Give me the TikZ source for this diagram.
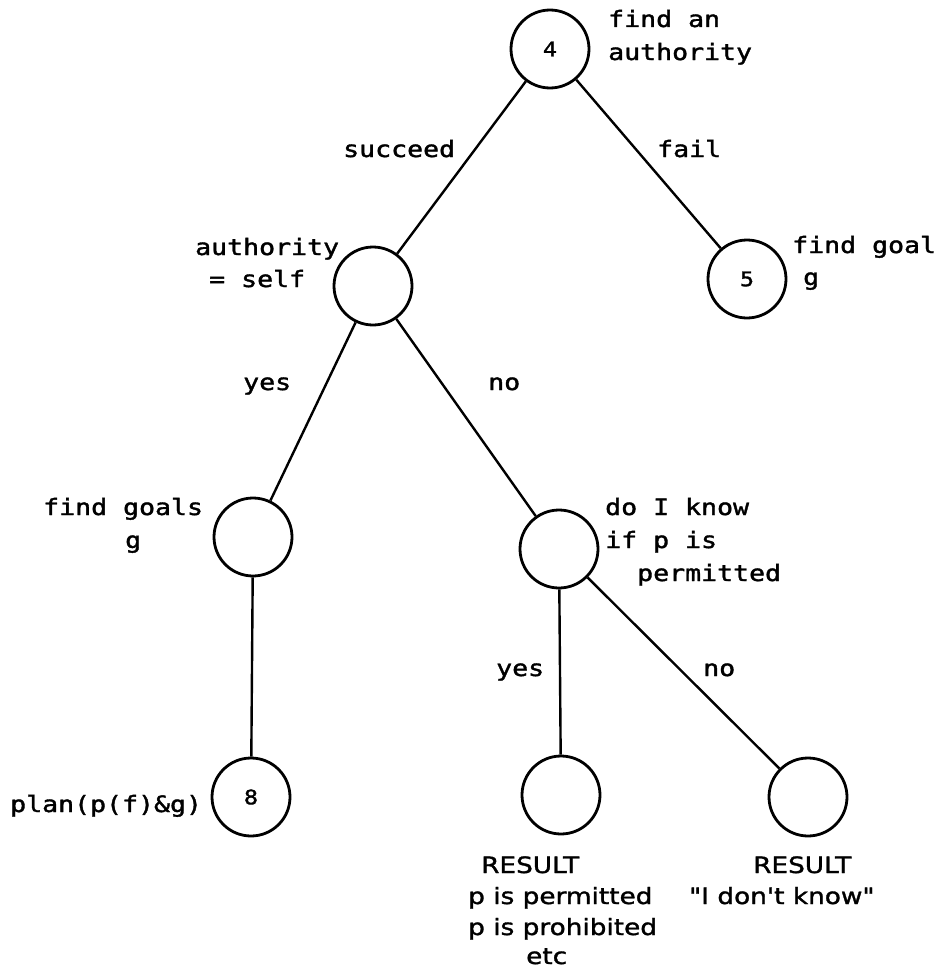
\documentclass[tikz,border=0pt]{standalone}
\usepackage{fontspec}
\newfontfamily\labfont[FakeStretch=1.18,FakeBold=1.6]{DejaVu Sans Mono}
\newfontfamily\resfont[FakeStretch=1.17,FakeBold=1.4]{DejaVu Sans}
\begin{document}
\begin{tikzpicture}[x=1pt,y=-1pt,
  state/.style={circle,draw,line width=2.8pt,minimum size=78pt,inner sep=0pt,
    font=\labfont\fontsize{20}{24}\selectfont},
  edge/.style={line width=2.4pt},
  lab/.style={anchor=base west,inner sep=0pt,font=\labfont\fontsize{22.5}{27}\selectfont},
  res/.style={anchor=base west,inner sep=0pt,font=\resfont\fontsize{22.5}{27}\selectfont}]
\useasboundingbox[fill=white] (0,0) rectangle (948,974);

% decision nodes
\node[state] (n4)    at (550,49)  {4};
\node[state] (auth)  at (373,286) {};
\node[state] (n5)    at (747,279) {5};
\node[state] (goals) at (253,537) {};
\node[state] (know)  at (559,549) {};
\node[state] (n8)    at (251,797) {8};
\node[state] (res1)  at (561,795) {};
\node[state] (res2)  at (808,797) {};

% branches
\draw[edge] (n4) -- (auth);
\draw[edge] (n4) -- (n5);
\draw[edge] (auth) -- (goals);
\draw[edge] (auth) -- (know);
\draw[edge] (goals) -- (n8);
\draw[edge] (know) -- (res1);
\draw[edge] (know) -- (res2);

% node descriptions
\node[lab] (t4a) at (608,27) {find an};
\node[lab] (t4b) at (608,60) {authority};
\node[lab] (ta1) at (195,255) {authority};
\node[lab] (ta2) at (209,287) {= self};
\node[lab] (t5a) at (792,253) {find goal};
\node[lab] (t5b) at (803,285) {g};
\node[lab] (tg1) at (43,515) {find goals};
\node[lab] (tg2) at (125,548) {g};
\node[lab] (tk1) at (605,515) {do I know};
\node[lab] (tk2) at (605,548) {if p is};
\node[lab] (tk3) at (637,581) {permitted};
\node[lab] (t8)  at (10,812) {plan(p(f)\&g)};

% branch labels
\node[lab] (l1) at (343,157) {succeed};
\node[lab] (l2) at (657,157) {fail};
\node[lab] (l3) at (243,390) {yes};
\node[lab] (l4) at (488,390) {no};
\node[lab] (l5) at (496,676) {yes};
\node[lab] (l6) at (703,676) {no};

% results
\node[res] (r1a) at (481,873) {RESULT};
\node[res] (r1b) at (468,904) {p is permitted};
\node[res] (r1c) at (468,935) {p is prohibited};
\node[res] (r1d) at (526,964) {etc};
\node[res] (r2a) at (753,873) {RESULT};
\node[res] (r2b) at (689,904) {"I don't know"};
\end{tikzpicture}
\end{document}
